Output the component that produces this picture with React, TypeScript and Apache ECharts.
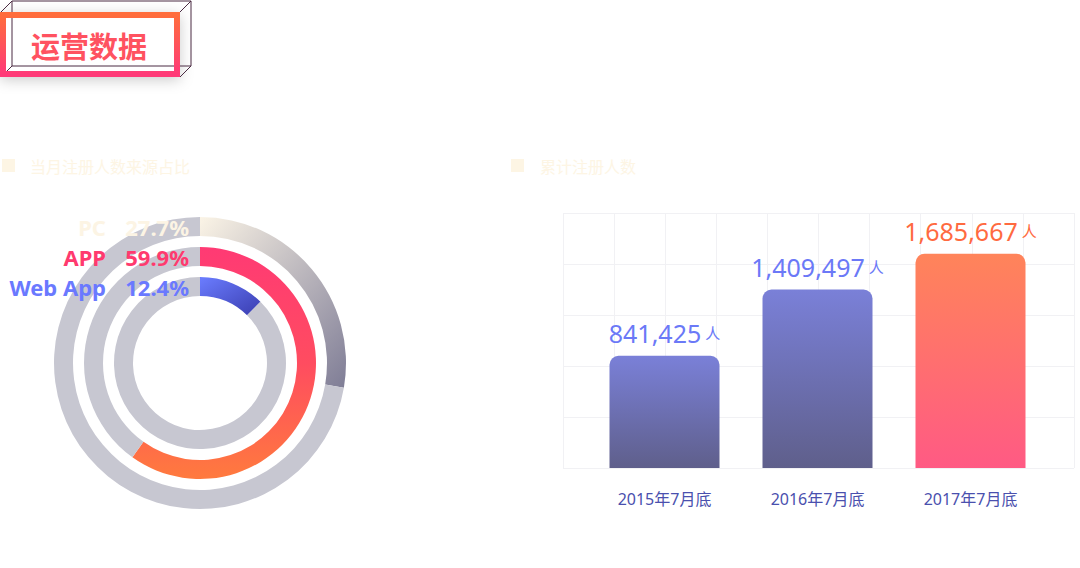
import React, { useEffect, useRef } from "react";
import * as echarts from "echarts";

const sourceNames = ["PC", "APP", "Web App"];
const sourceShares = [27.7, 59.9, 12.4];
const sourceColors = ["#fcf4e4", "#ff3a6e", "#6a79ff"];

const categories = ["2015年7月底", "2016年7月底", "2017年7月底"];
const registeredTotals = [841425, 1409497, 1685667];
const barLevels = [2.2, 3.5, 4.2];
const barLabelColors = ["#6b79f7", "#6b79f7", "#ff6a3f"];

const titleText = "运营数据";
const leftHeader = "当月注册人数来源占比";
const rightHeader = "累计注册人数";

const FONT = '"Noto Sans", "Noto Sans CJK SC", sans-serif';

function lg(x0: number, y0: number, x1: number, y1: number, stops: [number, string][]) {
  return new echarts.graphic.LinearGradient(
    x0, y0, x1, y1,
    stops.map(([offset, color]) => ({ offset, color }))
  );
}

export default function App() {
  const ref = useRef<HTMLDivElement>(null);

  useEffect(() => {
    if (!ref.current) return;
    const chart = echarts.init(ref.current, undefined, { renderer: "svg" });

    const ringRadii = [[127, 146], [97, 116], [67, 86]];
    const ringGradients = [
      lg(0, 0, 1, 1, [[0, "#fbf4e6"], [1, "#7f7d96"]]),
      lg(0, 0, 0, 1, [[0, "#ff3a74"], [0.5, "#ff4c60"], [1, "#ff7a3e"]]),
      lg(0, 0, 1, 1, [[0, "#6b7dff"], [1, "#3a3db0"]]),
    ];
    const labelY = [227, 257, 287];

    const pieSeries = sourceShares.map((v, i) => ({
      type: "pie",
      center: [200, 363],
      radius: ringRadii[i],
      startAngle: 90,
      clockwise: true,
      silent: true,
      z: 1,
      label: { show: false },
      labelLine: { show: false },
      emphasis: { disabled: true },
      data: [
        { value: v, name: sourceNames[i], itemStyle: { color: ringGradients[i] } },
        { value: +(100 - v).toFixed(1), name: "其他", itemStyle: { color: "#c7c7d1" } },
      ],
    }));

    const barGradients = [
      lg(0, 0, 0, 1, [[0, "#7a80d8"], [1, "#5f5f8b"]]),
      lg(0, 0, 0, 1, [[0, "#7a80d8"], [1, "#5f5f8b"]]),
      lg(0, 0, 0, 1, [[0, "#ff845a"], [1, "#ff5a84"]]),
    ];

    const pieLabels: any[] = [];
    sourceNames.forEach((n, i) => {
      pieLabels.push({
        type: "text",
        x: 106,
        y: labelY[i],
        z: 100,
        style: {
          text: n,
          fill: sourceColors[i],
          font: `bold 22px ${FONT}`,
          textAlign: "right",
          textVerticalAlign: "middle",
        },
      });
      pieLabels.push({
        type: "text",
        x: 189,
        y: labelY[i],
        z: 100,
        style: {
          text: `${sourceShares[i]}%`,
          fill: sourceColors[i],
          font: `bold 22px ${FONT}`,
          textAlign: "right",
          textVerticalAlign: "middle",
        },
      });
    });

    const lineColor = "#4a2b42";
    const option: any = {
      animation: false,
      backgroundColor: "#ffffff",
      grid: [
        { left: 563, top: 213, width: 511, height: 255 },
        { left: 588, top: 213, width: 459, height: 255 },
      ],
      xAxis: [
        {
          gridIndex: 0,
          type: "value",
          min: 0,
          max: 10,
          interval: 1,
          axisLine: { show: false },
          axisTick: { show: false },
          axisLabel: { show: false },
          splitLine: { show: true, lineStyle: { color: "#f1f1f4", width: 1 } },
        },
        {
          gridIndex: 1,
          type: "category",
          data: categories,
          axisLine: { show: false },
          axisTick: { show: false },
          axisLabel: { color: "#4a50ae", fontSize: 16, margin: 23, fontFamily: FONT },
        },
      ],
      yAxis: [
        {
          gridIndex: 0,
          type: "value",
          min: 0,
          max: 5,
          interval: 1,
          axisLine: { show: false },
          axisTick: { show: false },
          axisLabel: { show: false },
          splitLine: { show: true, lineStyle: { color: "#f1f1f4", width: 1 } },
        },
        {
          gridIndex: 1,
          type: "value",
          min: 0,
          max: 5,
          interval: 1,
          show: false,
          splitLine: { show: false },
        },
      ],
      series: [
        ...pieSeries,
        {
          type: "bar",
          xAxisIndex: 1,
          yAxisIndex: 1,
          barWidth: 110,
          silent: true,
          data: barLevels.map((v, i) => ({
            value: v,
            itemStyle: { color: barGradients[i], borderRadius: [9, 9, 0, 0] },
            label: {
              show: true,
              position: "top",
              distance: 10,
              formatter: () =>
                `{n|${registeredTotals[i].toLocaleString("en-US")}}{u|人}`,
              rich: {
                n: { fontSize: 25, color: barLabelColors[i], fontFamily: FONT },
                u: { fontSize: 15, color: barLabelColors[i], fontFamily: FONT, padding: [0, 0, 0, 4] },
              },
            },
          })),
        },
      ],
      graphic: [
        // title box
        {
          type: "rect",
          z: 100,
          shape: { x: 0, y: 12, width: 180, height: 65 },
          style: { fill: "#ffffff", shadowBlur: 14, shadowColor: "rgba(0,0,0,0.2)", shadowOffsetY: 3 },
        },
        { type: "line", z: 100, shape: { x1: 12, y1: 1, x2: 191, y2: 1 }, style: { stroke: lineColor, lineWidth: 1 } },
        { type: "line", z: 100, shape: { x1: 191, y1: 1, x2: 191, y2: 66 }, style: { stroke: lineColor, lineWidth: 1 } },
        { type: "line", z: 100, shape: { x1: 12, y1: 1, x2: 12, y2: 66 }, style: { stroke: lineColor, lineWidth: 1 } },
        { type: "line", z: 100, shape: { x1: 12, y1: 66, x2: 191, y2: 66 }, style: { stroke: lineColor, lineWidth: 1 } },
        { type: "line", z: 100, shape: { x1: 12, y1: 1, x2: 1, y2: 12 }, style: { stroke: lineColor, lineWidth: 1 } },
        { type: "line", z: 100, shape: { x1: 191, y1: 1, x2: 180, y2: 12 }, style: { stroke: lineColor, lineWidth: 1 } },
        { type: "line", z: 100, shape: { x1: 191, y1: 66, x2: 180, y2: 77 }, style: { stroke: lineColor, lineWidth: 1 } },
        { type: "line", z: 100, shape: { x1: 12, y1: 66, x2: 1, y2: 77 }, style: { stroke: lineColor, lineWidth: 1 } },
        {
          type: "rect",
          z: 100,
          shape: { x: 3, y: 15, width: 174, height: 59 },
          style: {
            fill: "none",
            lineWidth: 6,
            stroke: lg(0, 0, 0, 1, [[0, "#ff6d3c"], [1, "#ff3a78"]]),
          },
        },
        {
          type: "text",
          z: 100,
          x: 89,
          y: 45,
          style: {
            text: titleText,
            font: `bold 29px "Noto Sans CJK SC", sans-serif`,
            textAlign: "center",
            textVerticalAlign: "middle",
            fill: "#ff5260",
          },
        },
        // headers
        { type: "rect", z: 100, shape: { x: 2, y: 159, width: 13, height: 13 }, style: { fill: "#fdf5e4" } },
        {
          type: "text",
          z: 100,
          x: 30,
          y: 166,
          style: {
            text: leftHeader,
            font: `16px "Noto Sans CJK SC", sans-serif`,
            fill: "#fdf5e4",
            textVerticalAlign: "middle",
          },
        },
        { type: "rect", z: 100, shape: { x: 511, y: 159, width: 13, height: 13 }, style: { fill: "#fdf5e4" } },
        {
          type: "text",
          z: 100,
          x: 540,
          y: 166,
          style: {
            text: rightHeader,
            font: `16px "Noto Sans CJK SC", sans-serif`,
            fill: "#fdf5e4",
            textVerticalAlign: "middle",
          },
        },
        ...pieLabels,
      ],
    };

    chart.setOption(option);
    return () => chart.dispose();
  }, []);

  return (
    <div
      ref={ref}
      style={{ position: "fixed", left: 0, top: 0, width: 1080, height: 568, background: "#fff" }}
    />
  );
}
